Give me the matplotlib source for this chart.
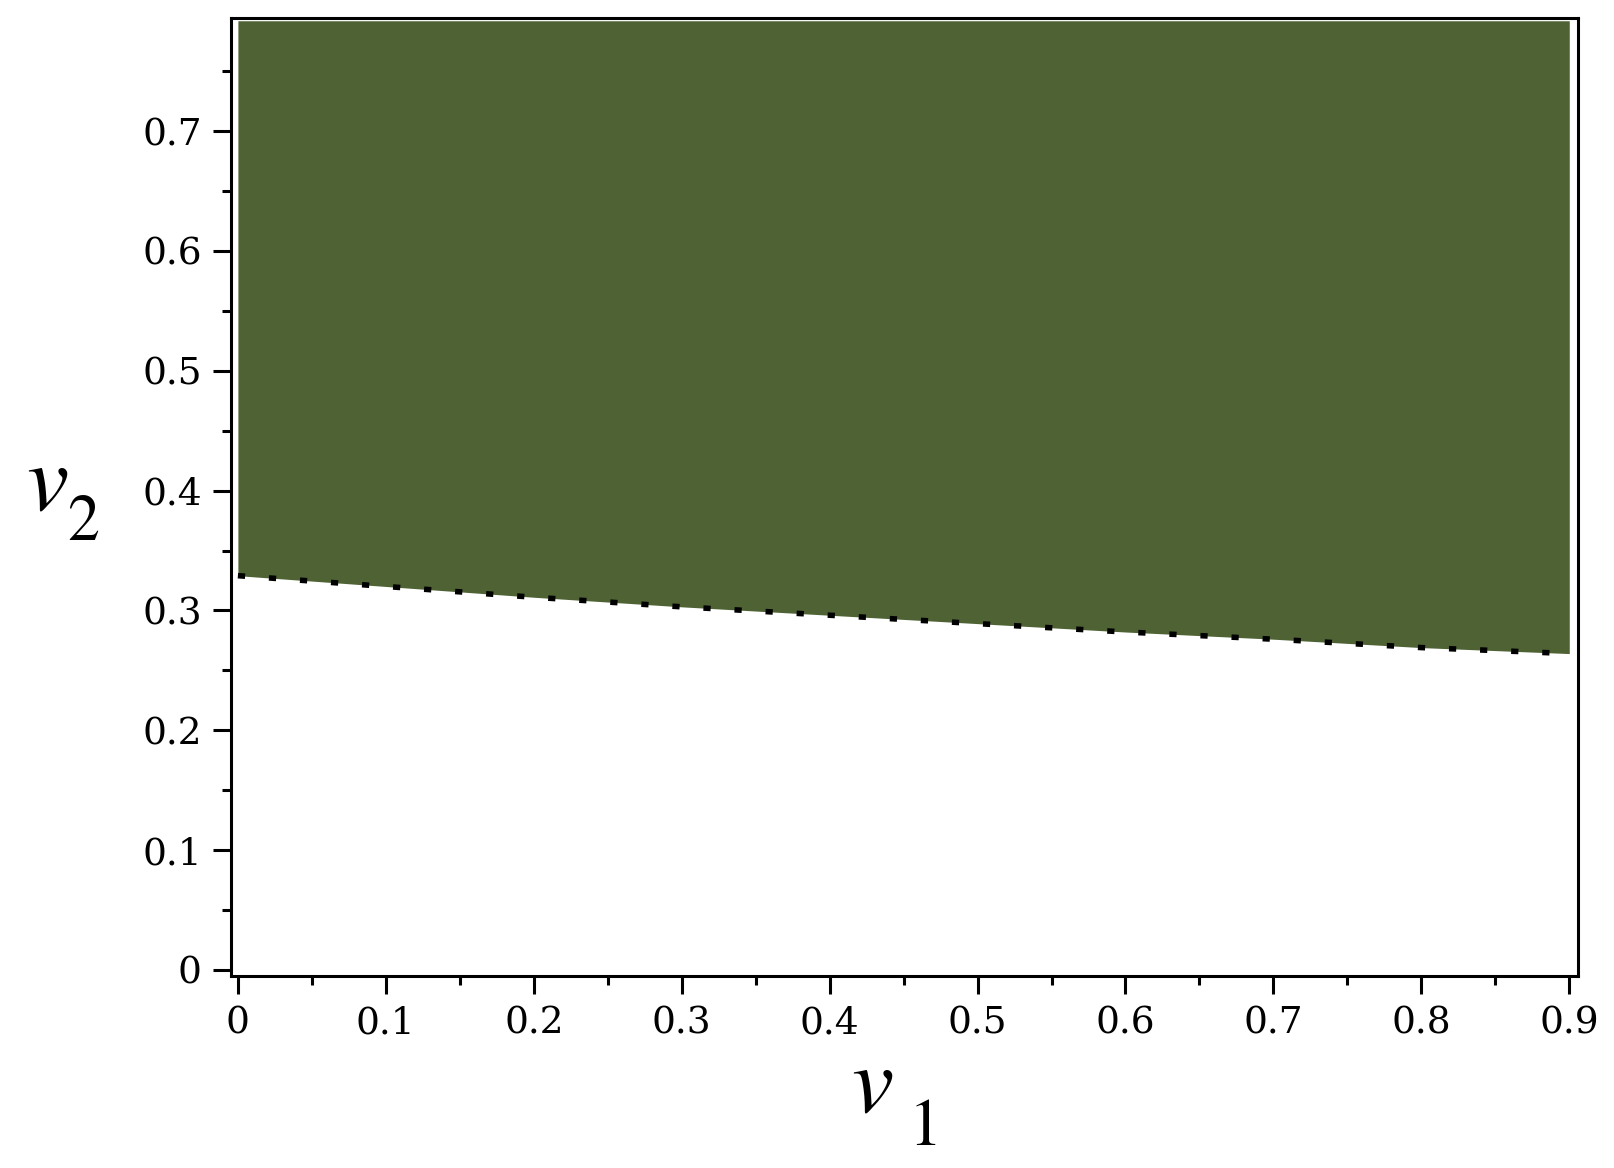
import matplotlib
matplotlib.use("Agg")
import matplotlib.pyplot as plt
from matplotlib.ticker import MultipleLocator, FixedLocator

# Data
v1 = [0.0, 0.1, 0.2, 0.3, 0.4, 0.5, 0.6, 0.7, 0.8, 0.9]
v2_boundary = [0.329, 0.320, 0.311, 0.303, 0.296, 0.289, 0.282, 0.276, 0.269, 0.264]
v2_top = 0.792
x_ticks = [0.0, 0.1, 0.2, 0.3, 0.4, 0.5, 0.6, 0.7, 0.8, 0.9]
x_tick_labels = ["0", "0.1", "0.2", "0.3", "0.4", "0.5", "0.6", "0.7", "0.8", "0.9"]
y_ticks = [0.0, 0.1, 0.2, 0.3, 0.4, 0.5, 0.6, 0.7]
y_tick_labels = ["0", "0.1", "0.2", "0.3", "0.4", "0.5", "0.6", "0.7"]

fig = plt.figure(figsize=(16.15, 11.68), dpi=100)
ax = fig.add_axes([0.143, 0.1644, 0.834, 0.8206])

green = "#4e6234"
ax.fill_between(v1, v2_boundary, [v2_top] * len(v1), color=green, linewidth=0, zorder=1)
ax.plot(v1, v2_boundary, color="black", linewidth=4.0, dashes=(1.3, 4.3),
        dash_capstyle="butt", zorder=2)

ax.set_xlim(-0.0047, 0.9058)
ax.set_ylim(-0.005, 0.7947)

ax.xaxis.set_major_locator(FixedLocator(x_ticks))
ax.yaxis.set_major_locator(FixedLocator(y_ticks))
ax.set_xticklabels(x_tick_labels)
ax.set_yticklabels(y_tick_labels)
ax.xaxis.set_minor_locator(MultipleLocator(0.05))
ax.yaxis.set_minor_locator(MultipleLocator(0.05))

for s in ax.spines.values():
    s.set_linewidth(2.2)
    s.set_color("black")

ax.tick_params(axis="both", which="major", direction="out", length=13, width=2.2,
               top=False, right=False, pad=8)
ax.tick_params(axis="both", which="minor", direction="out", length=6.5, width=2.2,
               top=False, right=False)
for lab in ax.get_xticklabels() + ax.get_yticklabels():
    lab.set_family("DejaVu Serif")
    lab.set_fontsize(27)
    lab.set_color("black")

# Axis labels: italic v with dropped subscript
lab_font = dict(family="STIXGeneral")
fig.text(0.540, 0.048, "v", fontsize=68, style="italic", ha="center", va="baseline", **lab_font)
fig.text(0.573, 0.0197, "1", fontsize=48, ha="center", va="baseline", **lab_font)
fig.text(0.029, 0.5634, "v", fontsize=68, style="italic", ha="center", va="baseline", **lab_font)
fig.text(0.0514, 0.5377, "2", fontsize=46, ha="center", va="baseline", **lab_font)

fig.savefig("out.png", dpi=100)
